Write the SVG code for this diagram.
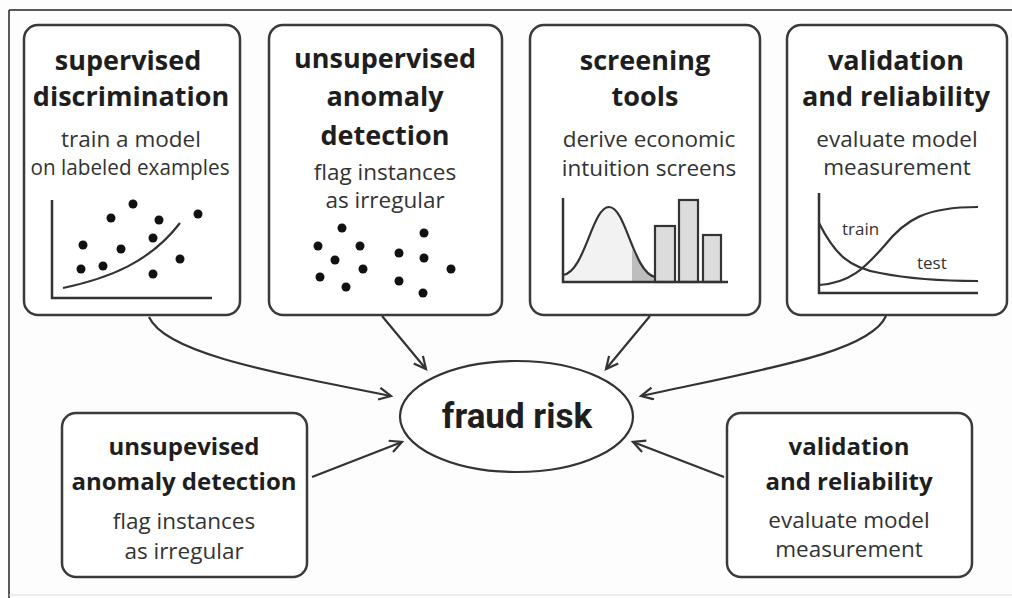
<svg xmlns="http://www.w3.org/2000/svg" width="1012" height="598" viewBox="0 0 1012 598">
<defs>
<style>
.box{fill:#fff;stroke:#3a3a3a;stroke-width:2.5}
.t{font-family:"Open Sans","Liberation Sans",sans-serif;font-weight:700;font-size:27px;fill:#1e1e1e;text-anchor:middle}
.tb{font-family:"Open Sans","Liberation Sans",sans-serif;font-weight:700;font-size:24px;fill:#1e1e1e;text-anchor:middle}
.s{font-family:"Open Sans","Liberation Sans",sans-serif;font-size:22.5px;fill:#333;text-anchor:middle}
.sb{font-family:"Open Sans","Liberation Sans",sans-serif;font-size:22.5px;fill:#333;text-anchor:middle}
.ax{fill:none;stroke:#333;stroke-width:2.5}
.cv{fill:none;stroke:#333;stroke-width:2.2}
.dot{fill:#111}
.conn{fill:none;stroke:#333;stroke-width:2.2;marker-end:url(#arr)}
.lbl{font-family:"Open Sans","Liberation Sans",sans-serif;font-size:17px;fill:#333}
</style>
<marker id="arr" markerWidth="16" markerHeight="16" refX="13" refY="7" orient="auto" markerUnits="userSpaceOnUse">
<path d="M1,1 L13,7 L1,13" fill="none" stroke="#333" stroke-width="2.2"/>
</marker>
</defs>
<rect x="0" y="0" width="1012" height="598" fill="#fdfdfd"/>
<line x1="9" y1="10" x2="1012" y2="10" stroke="#222" stroke-width="1.5"/>
<line x1="9" y1="10" x2="9" y2="598" stroke="#222" stroke-width="1.5"/>
<line x1="9" y1="595" x2="1012" y2="595" stroke="#ddd" stroke-width="1"/>

<g id="connectors">
<path class="conn" d="M149,317 C165,352 260,370 391,396"/>
<path class="conn" d="M382,316 L426,369"/>
<path class="conn" d="M650,316 L606,369"/>
<path class="conn" d="M886,316 C870,352 770,368 641,396"/>
<path class="conn" d="M312,477 L402,442"/>
<path class="conn" d="M724,477 L633,442"/>
</g>

<g id="node-supervised">
<rect class="box" x="24" y="25" width="216" height="290" rx="14"/>
<text class="t" x="128" y="70">supervised</text>
<text class="t" x="131" y="106">discrimination</text>
<text class="s" x="131" y="147">train a model</text>
<text class="s" x="130" y="175" textLength="199" lengthAdjust="spacingAndGlyphs">on labeled examples</text>
<path class="ax" d="M52,200 L52,298 L212,298"/>
<path class="cv" d="M63,288 C110,278 150,262 180,223"/>
<g class="dot">
<circle cx="133" cy="204" r="4.5"/><circle cx="111" cy="218" r="4.5"/><circle cx="159" cy="220" r="4.5"/><circle cx="198" cy="214" r="4.5"/>
<circle cx="83" cy="245" r="4.5"/><circle cx="121" cy="249" r="4.5"/><circle cx="153" cy="238" r="4.5"/><circle cx="81" cy="269" r="4.5"/>
<circle cx="103" cy="266" r="4.5"/><circle cx="180" cy="259" r="4.5"/><circle cx="153" cy="274" r="4.5"/>
</g>
</g>

<g id="node-unsupervised">
<rect class="box" x="269" y="25" width="233" height="290" rx="14"/>
<text class="t" x="385" y="68">unsupervised</text>
<text class="t" x="385" y="106">anomaly</text>
<text class="t" x="385" y="145">detection</text>
<text class="s" x="385" y="180">flag instances</text>
<text class="s" x="385" y="208">as irregular</text>
<g class="dot">
<circle cx="342" cy="228" r="4.5"/><circle cx="318" cy="246" r="4.5"/><circle cx="360" cy="246" r="4.5"/><circle cx="335" cy="260" r="4.5"/>
<circle cx="363" cy="269" r="4.5"/><circle cx="320" cy="277" r="4.5"/><circle cx="346" cy="287" r="4.5"/>
<circle cx="424" cy="233" r="4.5"/><circle cx="399" cy="253" r="4.5"/><circle cx="424" cy="258" r="4.5"/><circle cx="451" cy="269" r="4.5"/>
<circle cx="399" cy="281" r="4.5"/><circle cx="423" cy="293" r="4.5"/>
</g>
</g>

<g id="node-screening">
<rect class="box" x="530" y="25" width="230" height="290" rx="14"/>
<text class="t" x="645" y="70">screening</text>
<text class="t" x="645" y="106">tools</text>
<text class="s" x="649" y="147">derive economic</text>
<text class="s" x="649" y="176">intuition screens</text>
<path d="M563,275 C585,272 592,207 609,207 C626,207 633,272 655,277 L655,282 L563,282 Z" fill="#f2f2f2"/>
<path d="M632,249 C640,266 648,275 655,277 L655,282 L632,282 Z" fill="#bdbdbd"/>
<path class="cv" d="M563,275 C585,272 592,207 609,207 C626,207 633,272 655,277"/>
<rect x="655" y="226" width="20" height="56" fill="#dcdcdc" stroke="#333" stroke-width="2.2"/>
<rect x="679" y="200" width="19" height="82" fill="#dcdcdc" stroke="#333" stroke-width="2.2"/>
<rect x="703" y="235" width="18" height="47" fill="#dcdcdc" stroke="#333" stroke-width="2.2"/>
<path class="ax" d="M563,198 L563,282 L728,282"/>
</g>

<g id="node-validation-top">
<rect class="box" x="787" y="25" width="220" height="290" rx="14"/>
<text class="t" x="896" y="70">validation</text>
<text class="t" x="896" y="106">and reliability</text>
<text class="s" x="897" y="147">evaluate model</text>
<text class="s" x="897" y="175">measurement</text>
<path class="ax" d="M819,193 L819,293 L978,293"/>
<path class="cv" d="M819,223 C835,255 850,268 880,273 C910,279 940,281 978,281"/>
<path class="cv" d="M819,285 C850,283 865,268 885,245 C905,220 925,207 978,207"/>
<text class="lbl" x="842" y="235">train</text>
<text class="lbl" x="917" y="269">test</text>
</g>

<g id="node-fraud-risk">
<ellipse cx="516.5" cy="416.5" rx="116.5" ry="55.5" fill="#fff" stroke="#333" stroke-width="2.2"/>
<text x="517" y="428" font-family="Roboto,'Liberation Sans',sans-serif" font-weight="700" font-size="35" fill="#1e1e1e" text-anchor="middle">fraud risk</text>
</g>

<g id="node-unsupevised-bottom">
<rect class="box" x="62" y="413" width="245" height="164" rx="14"/>
<text class="tb" x="184" y="455">unsupevised</text>
<text class="tb" x="184" y="490">anomaly detection</text>
<text class="sb" x="184" y="529">flag instances</text>
<text class="sb" x="184" y="559">as irregular</text>
</g>

<g id="node-validation-bottom">
<rect class="box" x="727" y="413" width="245" height="164" rx="14"/>
<text class="tb" x="849" y="455">validation</text>
<text class="tb" x="849" y="490">and reliability</text>
<text class="sb" x="849" y="528">evaluate model</text>
<text class="sb" x="849" y="557">measurement</text>
</g>
</svg>
